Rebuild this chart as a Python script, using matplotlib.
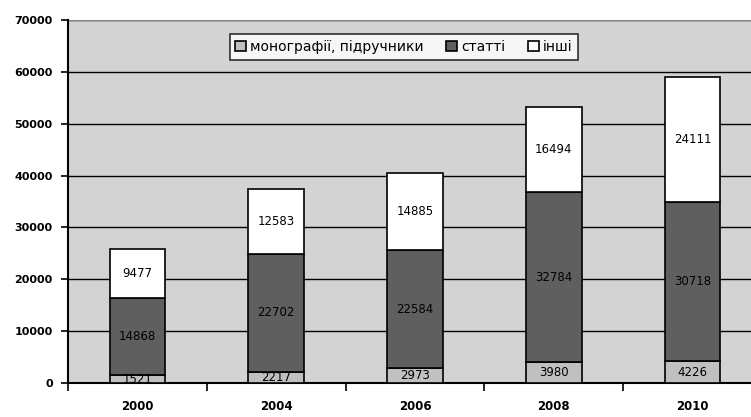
import numpy as np
import matplotlib
matplotlib.use('Agg')
import matplotlib.pyplot as plt

# data
years = ['2000', '2004', '2006', '2008', '2010']
monographs = [1521, 2217, 2973, 3980, 4226]
articles = [14868, 22702, 22584, 32784, 30718]
other = [9477, 12583, 14885, 16494, 24111]
series_labels = ['монографії, підручники', 'статті', 'інші']
y_ticks = [0, 10000, 20000, 30000, 40000, 50000, 60000, 70000]

plt.rcParams['font.family'] = ['DejaVu Sans']

fig = plt.figure(figsize=(7.51, 4.17), dpi=100, facecolor='white')
ax = fig.add_axes([68 / 751, 1 - 383 / 417, 694 / 751, 363 / 417])
ax.set_facecolor('#d3d3d3')

x = np.arange(len(years))
w = 0.40
bottoms = np.zeros(len(years))
colors = ['#c0c0c0', '#5f5f5f', '#ffffff']
for vals, col, lab in zip([monographs, articles, other], colors, series_labels):
    vals = np.array(vals, dtype=float)
    ax.bar(x, vals, w, bottom=bottoms, color=col, edgecolor='black',
           linewidth=1.2, label=lab, zorder=3)
    for xi, b, v in zip(x, bottoms, vals):
        ax.text(xi, b + v / 2, str(int(v)), ha='center', va='center',
                fontsize=8.5, color='black', zorder=4)
    bottoms += vals

ax.set_ylim(0, 70000)
ax.set_xlim(-0.5, len(years) - 0.5)
ax.set_yticks(y_ticks)
ax.set_yticklabels([str(t) for t in y_ticks], fontsize=8, fontweight='bold')
ax.yaxis.grid(True, color='black', linewidth=1.0, zorder=1)
ax.set_axisbelow(True)

ax.set_xticks(x)
ax.set_xticklabels(years, fontsize=8.5, fontweight='bold')
ax.tick_params(axis='x', which='major', length=0, pad=12)
ax.set_xticks(np.arange(-0.5, len(years)), minor=True)
ax.tick_params(axis='x', which='minor', length=6, width=1.2, direction='out')
ax.tick_params(axis='y', length=5, width=1.2, direction='out', pad=6)

for s in ['top', 'right']:
    ax.spines[s].set_visible(False)
ax.spines['left'].set_linewidth(1.5)
ax.spines['bottom'].set_linewidth(1.5)
ax.axhline(70000, color='#808080', linewidth=1.5, zorder=2)

leg = fig.legend(loc='center', bbox_to_anchor=(404 / 751, 1 - 47 / 417),
                 ncol=3, fontsize=10, frameon=True, fancybox=False,
                 edgecolor='black', handlelength=0.8, handleheight=0.8,
                 handletextpad=0.3, columnspacing=1.6, borderpad=0.4)
leg.get_frame().set_linewidth(1.2)

fig.savefig('out.png', dpi=100, facecolor='white')
